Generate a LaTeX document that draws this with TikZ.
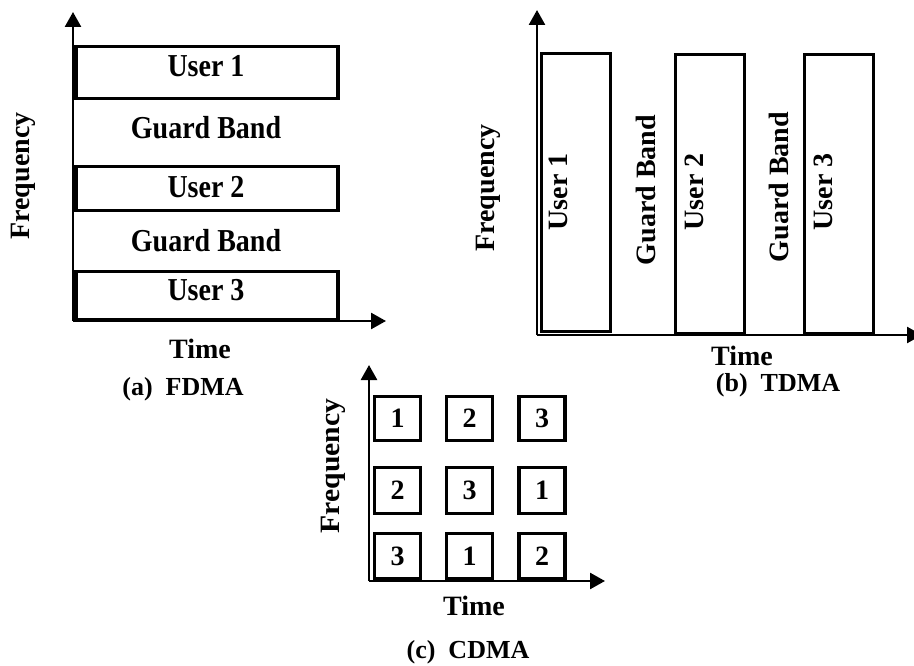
\documentclass[tikz,border=0pt]{standalone}
\usepackage{fontspec}
\setmainfont{Liberation Serif}
\usetikzlibrary{positioning,arrows.meta}
\tikzstyle{band}=[draw,line width=3.2pt,inner sep=0pt,font=\bfseries\fontsize{28}{30}\selectfont]
\tikzstyle{lbl}=[inner sep=0pt,font=\bfseries\fontsize{28}{30}\selectfont]
\tikzstyle{caption}=[inner sep=0pt,font=\bfseries\fontsize{26}{28}\selectfont]
\tikzstyle{axis}=[line width=2.6pt,-{Triangle[length=15pt,width=16pt]}]
\newcommand{\newBand}[6]{\node[band,minimum width=#4,minimum height=#5](#1) at (#2,#3) {#6};}
\newcommand{\tall}[1]{\scalebox{1}[1.14]{#1}}
\begin{document}
\begin{tikzpicture}[x=1pt,y=-1pt]
      \useasboundingbox (0,0) rectangle (914,666);
      % (a) FDMA
      \coordinate (ao) at (73,321);
      \coordinate (ay) at (73,12);
      \coordinate (ax) at (386,321);
      \newBand{f1}{207}{72.5}{262}{52}{}
      \newBand{f2}{207}{188.5}{262}{44}{}
      \newBand{f3}{207}{295.5}{262}{48}{}
      \draw[axis] (ao) -- (ay);
      \draw[axis] (ao) -- (ax);
      \node[lbl] (fu1) at (206,66) {\tall{User 1}};
      \node[lbl] (fg1) at (206,128) {\tall{Guard Band}};
      \node[lbl] (fu2) at (206,187) {\tall{User 2}};
      \node[lbl] (fg2) at (206,241) {\tall{Guard Band}};
      \node[lbl] (fu3) at (206,290) {\tall{User 3}};
      \node[lbl,rotate=90] (ffreq) at (23,176) {Frequency};
      \node[lbl] (ftime) at (200,349) {Time};
      \node[caption] (fcap) at (183,389) {(a)\hspace{13pt}FDMA};

      % (b) TDMA
      \coordinate (bo) at (537,335);
      \coordinate (by) at (537,10);
      \coordinate (bx) at (922,335);
      \newBand{t1}{576}{192.5}{69}{278}{}
      \newBand{t2}{710}{194}{69}{279}{}
      \newBand{t3}{839}{194}{69}{279}{}
      \draw[axis] (bo) -- (by);
      \draw[axis] (bo) -- (bx);
      \node[lbl,rotate=90] (tu1) at (558,192) {User 1};
      \node[lbl,rotate=90] (tg1) at (646,190) {Guard Band};
      \node[lbl,rotate=90] (tu2) at (694,192) {User 2};
      \node[lbl,rotate=90] (tg2) at (779,187) {Guard Band};
      \node[lbl,rotate=90] (tu3) at (823,192) {User 3};
      \node[lbl,rotate=90] (tfreq) at (488,188) {Frequency};
      \node[lbl] (ttime) at (742,356) {Time};
      \node[caption] (tcap) at (778,385) {(b)\hspace{13pt}TDMA};

      % (c) CDMA
      \coordinate (co) at (369,581);
      \coordinate (cy) at (369,365);
      \coordinate (cx) at (605,581);
      \newBand{c11}{397.5}{418.5}{46}{44}{1}
      \newBand{c12}{469.5}{418.5}{46}{44}{2}
      \newBand{c13}{542}{418.5}{46}{44}{3}
      \newBand{c21}{397.5}{490.5}{46}{46}{2}
      \newBand{c22}{469.5}{490.5}{46}{46}{3}
      \newBand{c23}{542}{490.5}{46}{46}{1}
      \newBand{c31}{397.5}{556}{46}{45}{3}
      \newBand{c32}{469.5}{556}{46}{45}{1}
      \newBand{c33}{542}{556}{46}{45}{2}
      \draw[axis] (co) -- (cy);
      \draw[axis] (co) -- (cx);
      \node[lbl,rotate=90] (cfreq) at (333,466) {\scalebox{1.06}[1]{Frequency}};
      \node[lbl] (ctime) at (474,606) {Time};
      \node[caption] (ccap) at (468,652) {(c)\hspace{13pt}CDMA};
\end{tikzpicture}
\end{document}
